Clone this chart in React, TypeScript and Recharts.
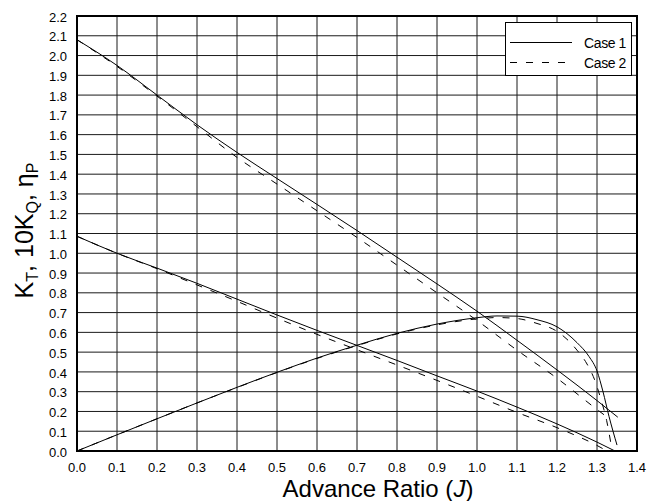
import React from "react";
import {
  LineChart,
  Line,
  XAxis,
  YAxis,
  CartesianGrid,
  ReferenceArea,
  Legend,
} from "recharts";

// ---- Data ----
const jKq1 = [0, 0.1, 0.2, 0.3, 0.4, 0.5, 0.6, 0.7, 0.8, 0.9, 1.0, 1.1, 1.2, 1.3, 1.352];
const kq10Case1 = [2.08, 1.95, 1.8, 1.65, 1.51, 1.378, 1.247, 1.115, 0.98, 0.845, 0.707, 0.56, 0.41, 0.255, 0.171];

const jKq2 = [0, 0.1, 0.2, 0.3, 0.4, 0.5, 0.6, 0.7, 0.8, 0.9, 1.0, 1.1, 1.2, 1.3, 1.325];
const kq10Case2 = [2.08, 1.945, 1.795, 1.64, 1.485, 1.35, 1.215, 1.08, 0.94, 0.8, 0.66, 0.51, 0.368, 0.21, 0.172];

const jKt1 = [0, 0.1, 0.2, 0.3, 0.4, 0.5, 0.6, 0.7, 0.8, 0.9, 1.0, 1.1, 1.2, 1.3, 1.345];
const ktCase1 = [1.086, 1.0, 0.925, 0.848, 0.768, 0.688, 0.61, 0.534, 0.458, 0.38, 0.303, 0.222, 0.137, 0.045, 0];

const jKt2 = [0, 0.1, 0.2, 0.3, 0.4, 0.5, 0.6, 0.7, 0.8, 0.9, 1.0, 1.1, 1.2, 1.3, 1.325];
const ktCase2 = [1.086, 1.0, 0.922, 0.84, 0.757, 0.672, 0.59, 0.512, 0.435, 0.357, 0.277, 0.195, 0.118, 0.028, 0];

const jEta1 = [0, 0.1, 0.2, 0.3, 0.4, 0.5, 0.6, 0.7, 0.8, 0.9, 1.0, 1.05, 1.1, 1.15, 1.2, 1.25, 1.28, 1.3, 1.315, 1.33, 1.35];
const etaCase1 = [0, 0.082, 0.163, 0.243, 0.322, 0.398, 0.47, 0.535, 0.595, 0.642, 0.674, 0.683, 0.682, 0.664, 0.628, 0.548, 0.478, 0.405, 0.3, 0.175, 0.03];

const jEta2 = [0, 0.1, 0.2, 0.3, 0.4, 0.5, 0.6, 0.7, 0.8, 0.9, 1.0, 1.05, 1.1, 1.15, 1.2, 1.225, 1.25, 1.275, 1.295, 1.31, 1.324, 1.335];
const etaCase2 = [0, 0.082, 0.163, 0.243, 0.321, 0.397, 0.468, 0.533, 0.592, 0.638, 0.668, 0.675, 0.67, 0.645, 0.605, 0.565, 0.51, 0.44, 0.355, 0.26, 0.155, 0.035];

// ---- Axis ticks ----
const xMajorTicks = [0, 0.1, 0.2, 0.3, 0.4, 0.5, 0.6, 0.7, 0.8, 0.9, 1.0, 1.1, 1.2, 1.3, 1.4];
const yMajorTicks = [0, 0.1, 0.2, 0.3, 0.4, 0.5, 0.6, 0.7, 0.8, 0.9, 1.0, 1.1, 1.2, 1.3, 1.4, 1.5, 1.6, 1.7, 1.8, 1.9, 2.0, 2.1, 2.2];
const xMinorTicks = Array.from({ length: 71 }, (_, i) => Math.round(i * 2) / 100);
const yMinorTicks = Array.from({ length: 111 }, (_, i) => Math.round(i * 2) / 100);

const legendLabels = ["Case 1", "Case 2"];

const toSeries = (js: number[], vs: number[]) => js.map((J, i) => ({ J, v: vs[i] }));

const FONT = "'Liberation Sans', Arial, Helvetica, sans-serif";

const XTitle = (props: any) => {
  const vb = props.viewBox || { x: 0, y: 0, width: 0, height: 0 };
  const cx = vb.x + vb.width / 2 + 21;
  const y = vb.y + 46;
  return (
    <text x={cx} y={y} textAnchor="middle" fontSize={24} fontFamily={FONT} fill="#000">
      <tspan>Advance Ratio (</tspan>
      <tspan fontStyle="italic">J</tspan>
      <tspan>)</tspan>
    </text>
  );
};

const YTitle = (props: any) => {
  const vb = props.viewBox || { x: 0, y: 0, width: 0, height: 0 };
  const x = 25;
  const cy = vb.y + vb.height / 2 - 3;
  return (
    <text
      x={x}
      y={cy}
      textAnchor="middle"
      fontSize={25}
      fontFamily={FONT}
      fill="#000"
      transform={`rotate(-90, ${x}, ${cy})`}
    >
      <tspan>K</tspan>
      <tspan fontSize={16} dy={5}>T</tspan>
      <tspan dy={-5}>, 10K</tspan>
      <tspan fontSize={16} dy={5}>Q</tspan>
      <tspan dy={-5}>, η</tspan>
      <tspan fontSize={16} dy={5}>P</tspan>
    </text>
  );
};

const LegendBox = () => (
  <svg width={128} height={56} style={{ display: "block" }}>
    <rect x={0.5} y={0.5} width={126} height={53} fill="#fff" stroke="#000" strokeWidth={1} />
    <line x1={5} x2={67} y1={20.5} y2={20.5} stroke="#000" strokeWidth={1} />
    <line x1={5} x2={67} y1={40.5} y2={40.5} stroke="#000" strokeWidth={1} strokeDasharray="7 9" />
    <text x={121} y={26} textAnchor="end" fontSize={14} letterSpacing={-0.4} fontFamily={FONT} fill="#000">
      {legendLabels[0]}
    </text>
    <text x={121} y={46} textAnchor="end" fontSize={14} letterSpacing={-0.4} fontFamily={FONT} fill="#000">
      {legendLabels[1]}
    </text>
  </svg>
);

const fmt = (v: number) => v.toFixed(1);

export default function App() {
  return (
    <div style={{ width: 644, height: 493, fontFamily: FONT }}>
      <style>{`body { margin-bottom: 0; }`}</style>
      <LineChart width={644} height={493} margin={{ top: 8, right: 15, left: 0, bottom: 8 }}>
        <CartesianGrid stroke="#1a1a1a" strokeWidth={1} />
        <XAxis
          xAxisId="minor"
          type="number"
          dataKey="J"
          domain={[0, 1.4]}
          allowDataOverflow
          ticks={xMinorTicks}
          interval={0}
          height={0}
          mirror
          tickSize={6}
          axisLine={false}
          tickLine={{ stroke: "#000", strokeWidth: 1 }}
          tickFormatter={() => ""}
        />
        <XAxis
          type="number"
          dataKey="J"
          domain={[0, 1.4]}
          allowDataOverflow
          ticks={xMajorTicks}
          interval={0}
          tickFormatter={fmt}
          tickLine={false}
          axisLine={false}
          tickSize={10}
          tickMargin={2}
          height={42}
          tick={{ fill: "#000", fontSize: 13, fontFamily: FONT }}
          label={<XTitle />}
        />
        <YAxis
          yAxisId="minor"
          type="number"
          domain={[0, 2.2]}
          allowDataOverflow
          ticks={yMinorTicks}
          interval={0}
          width={0}
          mirror
          tickSize={5}
          axisLine={false}
          tickLine={{ stroke: "#000", strokeWidth: 1 }}
          tickFormatter={() => ""}
        />
        <YAxis
          type="number"
          domain={[0, 2.2]}
          allowDataOverflow
          ticks={yMajorTicks}
          interval={0}
          tickFormatter={fmt}
          tickLine={false}
          axisLine={false}
          tickSize={8}
          tickMargin={2}
          width={69}
          tick={{ fill: "#000", fontSize: 13, fontFamily: FONT, dy: 1 }}
          label={<YTitle />}
        />
        <Line data={toSeries(jKq1, kq10Case1)} dataKey="v" type="monotone" stroke="#000" strokeWidth={1} dot={false} isAnimationActive={false} />
        <Line data={toSeries(jKq2, kq10Case2)} dataKey="v" type="monotone" stroke="#000" strokeWidth={1} strokeDasharray="7 9" dot={false} isAnimationActive={false} />
        <Line data={toSeries(jKt1, ktCase1)} dataKey="v" type="monotone" stroke="#000" strokeWidth={1} dot={false} isAnimationActive={false} />
        <Line data={toSeries(jKt2, ktCase2)} dataKey="v" type="monotone" stroke="#000" strokeWidth={1} strokeDasharray="7 9" dot={false} isAnimationActive={false} />
        <Line data={toSeries(jEta1, etaCase1)} dataKey="v" type="monotone" stroke="#000" strokeWidth={1} dot={false} isAnimationActive={false} />
        <Line data={toSeries(jEta2, etaCase2)} dataKey="v" type="monotone" stroke="#000" strokeWidth={1} strokeDasharray="7 9" dot={false} isAnimationActive={false} />
        <ReferenceArea x1={0} x2={1.4} y1={0} y2={2.2} fill="none" stroke="#000" strokeWidth={2} ifOverflow="visible" />
        <Legend
          layout="vertical"
          align="center"
          verticalAlign="middle"
          wrapperStyle={{ position: "absolute", left: 497, top: 14, width: 128, height: 56 }}
          content={() => <LegendBox />}
        />
      </LineChart>
    </div>
  );
}
